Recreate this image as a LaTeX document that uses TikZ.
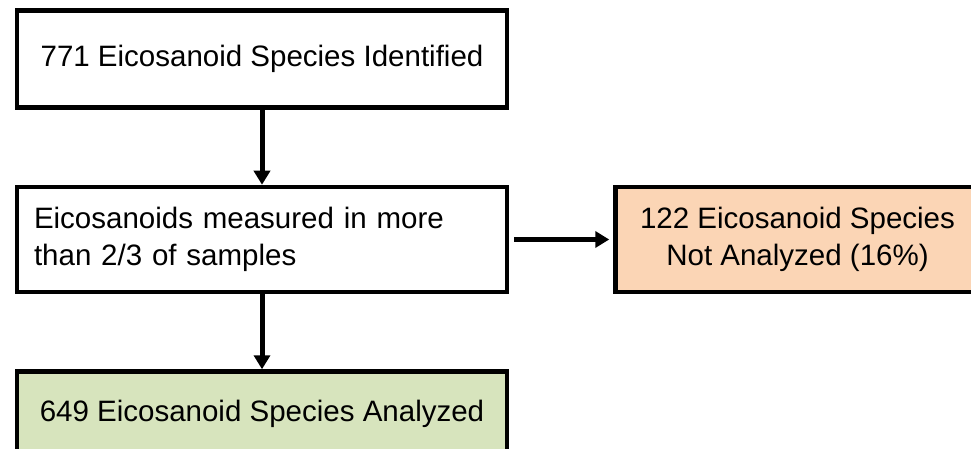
\documentclass[tikz,border=0pt]{standalone}
\usepackage{fontspec}
\setmainfont{Liberation Sans}
\usetikzlibrary{positioning, arrows.meta}
\definecolor{dropped}{HTML}{FBD5B5}
\definecolor{kept}{HTML}{D7E4BD}

\begin{document}
\begin{tikzpicture}[x=1pt, y=-1pt, font=\fontsize{29.5}{37}\selectfont,
		box/.style={draw, line width=4.5pt, minimum width=490pt, inner sep=0pt},
		flow/.style={line width=5pt},
		>={Triangle[length=14pt, width=16pt]}]
		\useasboundingbox (0,0) rectangle (971,449);
		\clip (0,0) rectangle (971,449);
		\node[box, minimum height=97pt] (identified) at (262,59) {771 Eicosanoid Species Identified};
		\node[box, below=75pt of identified, minimum height=105pt, text width=456pt, align=left] (measured) {Eicosanoids measured in more\\than 2/3 of samples};
		\node[box, right=104pt of measured, minimum width=364pt, minimum height=105pt, fill=dropped, align=center] (excluded) {122 Eicosanoid Species\\Not Analyzed (16\%)};
		\node[box, below=75pt of measured, minimum height=84pt, fill=kept] (analyzed) {649 Eicosanoid Species Analyzed};
		\draw[->, flow] (identified) edge (measured);
		\draw[->, flow, shorten <=5pt, shorten >=4pt] (measured) edge (excluded);
		\draw[->, flow] (measured) edge (analyzed);
	\end{tikzpicture}
\end{document}
